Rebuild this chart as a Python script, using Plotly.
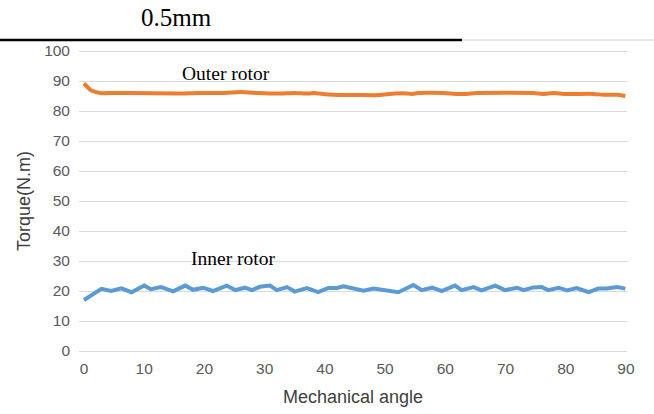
import plotly.graph_objects as go

# Outer rotor torque (N.m) vs mechanical angle (deg)
outer_angle = [0, 1.2, 2.9, 4.5, 7.3, 15.6, 18.9, 22.3, 26.1, 28.9, 32.2, 35.0, 37.2, 38.3,
               40.0, 43.3, 45.5, 49.2, 50.3, 52.8, 54.5, 55.5, 59.7, 61.9, 63.6, 65.2,
               74.6, 76.3, 78.0, 79.6, 84.6, 86.3, 88.5, 89.9]
outer_torque = [89.2, 86.8, 85.9, 86.0, 86.0, 85.8, 86.0, 86.0, 86.3, 86.0, 85.8, 86.0, 85.8, 86.0,
                85.6, 85.3, 85.3, 85.3, 85.6, 85.9, 85.7, 86.0, 86.0, 85.7, 85.7, 86.0,
                86.0, 85.7, 86.0, 85.7, 85.7, 85.4, 85.4, 85.0]

# Inner rotor torque (N.m) vs mechanical angle (deg)
inner_angle = [0, 2.9, 4.5, 6.2, 7.9, 10.0, 11.1, 12.8, 14.8, 16.8, 18.1, 19.8, 21.4,
               23.7, 25.1, 26.7, 27.9, 29.2, 30.9, 32.0, 33.7, 35.0, 37.0, 38.9, 40.6, 42.0,
               43.1, 44.7, 46.4, 48.1, 49.7, 52.2, 54.7, 56.1, 57.8, 59.4, 61.6, 62.7, 64.7,
               66.0, 68.3, 69.9, 71.9, 73.0, 74.6, 76.0, 77.1, 78.8, 80.2, 81.8, 83.8, 85.4,
               86.8, 88.5, 89.9]
inner_torque = [17.0, 20.7, 20.0, 20.9, 19.6, 21.8, 20.6, 21.3, 19.9, 21.8, 20.4, 21.1, 20.0,
                21.8, 20.3, 21.1, 20.3, 21.4, 21.8, 20.3, 21.3, 19.8, 21.0, 19.6, 21.0, 21.0,
                21.6, 21.0, 20.1, 20.8, 20.3, 19.6, 22.0, 20.3, 21.1, 20.0, 21.8, 20.3, 21.3,
                20.2, 21.8, 20.3, 21.1, 20.3, 21.2, 21.3, 20.3, 21.1, 20.2, 21.0, 19.6, 20.8,
                20.8, 21.3, 20.8]

x_ticks = [0, 10, 20, 30, 40, 50, 60, 70, 80, 90]
y_ticks = [0, 10, 20, 30, 40, 50, 60, 70, 80, 90, 100]

fig = go.Figure()
fig.add_trace(go.Scatter(x=outer_angle, y=outer_torque, mode="lines",
                         line=dict(color="#ED7D31", width=4, shape="spline", smoothing=0.4),
                         showlegend=False, hoverinfo="skip"))
fig.add_trace(go.Scatter(x=inner_angle, y=inner_torque, mode="lines",
                         line=dict(color="#5B9BD5", width=4),
                         showlegend=False, hoverinfo="skip"))

tick_font = dict(family="Liberation Sans, Arial, sans-serif", size=15.5, color="#595959")
sans = "Liberation Sans, Arial, sans-serif"
serif = "Liberation Serif, Times New Roman, serif"

fig.update_layout(
    width=654, height=414,
    margin=dict(l=79, r=27, t=48, b=60),
    paper_bgcolor="white", plot_bgcolor="white",
    xaxis=dict(range=[-0.83, 90.17], tickvals=x_ticks, showgrid=False, zeroline=False,
               showline=False, ticks="", tickfont=tick_font, ticklabelstandoff=3,
               title=dict(text="Mechanical angle", standoff=14,
                          font=dict(family=sans, size=18, color="#404040"))),
    yaxis=dict(range=[-1, 101], tickvals=y_ticks, showgrid=True, gridcolor="#D9D9D9", gridwidth=1,
               zeroline=False, showline=False, ticks="", tickfont=tick_font,
               ticklabelstandoff=8,
               title=dict(text="Torque(N.m)", standoff=8,
                          font=dict(family=sans, size=18, color="#404040"))),
    shapes=[
        dict(type="line", xref="paper", yref="paper", x0=-79/548, x1=(462-79)/548,
             y0=1 + (48-40)/306, y1=1 + (48-40)/306, line=dict(color="black", width=2.5)),
        dict(type="line", xref="paper", yref="paper", x0=(462-79)/548, x1=(654-79)/548,
             y0=1 + (48-40)/306, y1=1 + (48-40)/306, line=dict(color="#D0D0D0", width=1)),
    ],
    annotations=[
        dict(text="0.5mm", xref="paper", yref="paper", x=(176-79)/548, y=1 + (48-18)/306,
             showarrow=False, xanchor="center", yanchor="middle",
             font=dict(family=serif, size=25, color="black")),
        dict(text="Outer rotor", xref="x", yref="y", x=23.5, y=92.5, showarrow=False,
             xanchor="center", yanchor="middle",
             font=dict(family=serif, size=19.5, color="black")),
        dict(text="Inner rotor", xref="x", yref="y", x=24.8, y=31, showarrow=False,
             xanchor="center", yanchor="middle",
             font=dict(family=serif, size=19.5, color="black")),
    ],
)

fig.write_html("out.html")
